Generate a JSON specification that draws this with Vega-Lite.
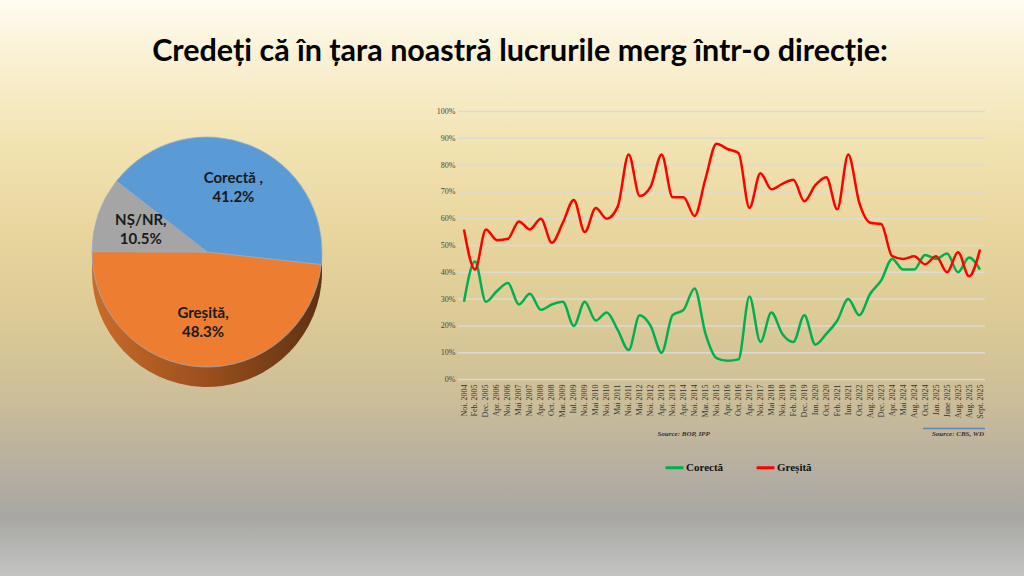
{
  "$schema": "https://vega.github.io/schema/vega-lite/v6.json",
  "width": 1024,
  "height": 576,
  "autosize": {"type": "none"},
  "padding": 0,
  "background": "#fffcf1",
  "title": {
    "text": "Credeți că în țara noastră lucrurile merg într-o direcție:",
    "font": "Lato",
    "fontSize": 30.5,
    "fontWeight": "bold",
    "color": "#000000",
    "anchor": "middle",
    "orient": "top",
    "baseline": "alphabetic",
    "offset": -91,
    "dx": 8
  },
  "config": {"view": {"stroke": null}},
  "datasets": {
    "pie": [
      {"name": "Corectă ,", "share": 0.412},
      {"name": "Greșită,", "share": 0.483},
      {"name": "NȘ/NR,", "share": 0.105}
    ],
    "grid": [
      {"v": 0}, {"v": 10}, {"v": 20}, {"v": 30}, {"v": 40}, {"v": 50},
      {"v": 60}, {"v": 70}, {"v": 80}, {"v": 90}, {"v": 100}
    ],
    "trend": [
      {"p": "Noi. 2004", "s": "Corectă", "v": 29}, {"p": "Noi. 2004", "s": "Greșită", "v": 56},
      {"p": "Feb. 2005", "s": "Corectă", "v": 44}, {"p": "Feb. 2005", "s": "Greșită", "v": 41},
      {"p": "Dec. 2005", "s": "Corectă", "v": 29}, {"p": "Dec. 2005", "s": "Greșită", "v": 56},
      {"p": "Apr. 2006", "s": "Corectă", "v": 33}, {"p": "Apr. 2006", "s": "Greșită", "v": 52},
      {"p": "Noi. 2006", "s": "Corectă", "v": 36}, {"p": "Noi. 2006", "s": "Greșită", "v": 52.5},
      {"p": "Mai 2007", "s": "Corectă", "v": 28}, {"p": "Mai 2007", "s": "Greșită", "v": 59},
      {"p": "Noi. 2007", "s": "Corectă", "v": 32}, {"p": "Noi. 2007", "s": "Greșită", "v": 56},
      {"p": "Apr. 2008", "s": "Corectă", "v": 26}, {"p": "Apr. 2008", "s": "Greșită", "v": 60},
      {"p": "Oct. 2008", "s": "Corectă", "v": 28}, {"p": "Oct. 2008", "s": "Greșită", "v": 51},
      {"p": "Mar. 2009", "s": "Corectă", "v": 29}, {"p": "Mar. 2009", "s": "Greșită", "v": 58.5},
      {"p": "Iul. 2009", "s": "Corectă", "v": 20}, {"p": "Iul. 2009", "s": "Greșită", "v": 67},
      {"p": "Noi. 2009", "s": "Corectă", "v": 29}, {"p": "Noi. 2009", "s": "Greșită", "v": 55},
      {"p": "Mai 2010", "s": "Corectă", "v": 22}, {"p": "Mai 2010", "s": "Greșită", "v": 64},
      {"p": "Noi. 2010", "s": "Corectă", "v": 25}, {"p": "Noi. 2010", "s": "Greșită", "v": 60},
      {"p": "Mai 2011", "s": "Corectă", "v": 18.5}, {"p": "Mai 2011", "s": "Greșită", "v": 64.5},
      {"p": "Noi. 2011", "s": "Corectă", "v": 11}, {"p": "Noi. 2011", "s": "Greșită", "v": 84},
      {"p": "Mai 2012", "s": "Corectă", "v": 24}, {"p": "Mai 2012", "s": "Greșită", "v": 68.5},
      {"p": "Noi. 2012", "s": "Corectă", "v": 20}, {"p": "Noi. 2012", "s": "Greșită", "v": 72},
      {"p": "Apr. 2013", "s": "Corectă", "v": 10}, {"p": "Apr. 2013", "s": "Greșită", "v": 84},
      {"p": "Noi. 2013", "s": "Corectă", "v": 24}, {"p": "Noi. 2013", "s": "Greșită", "v": 68},
      {"p": "Apr. 2014", "s": "Corectă", "v": 26}, {"p": "Apr. 2014", "s": "Greșită", "v": 68},
      {"p": "Noi. 2014", "s": "Corectă", "v": 34}, {"p": "Noi. 2014", "s": "Greșită", "v": 61},
      {"p": "Mar. 2015", "s": "Corectă", "v": 17}, {"p": "Mar. 2015", "s": "Greșită", "v": 75},
      {"p": "Noi. 2015", "s": "Corectă", "v": 8}, {"p": "Noi. 2015", "s": "Greșită", "v": 88},
      {"p": "Apr. 2016", "s": "Corectă", "v": 7}, {"p": "Apr. 2016", "s": "Greșită", "v": 86},
      {"p": "Oct. 2016", "s": "Corectă", "v": 7.5}, {"p": "Oct. 2016", "s": "Greșită", "v": 84.5},
      {"p": "Apr. 2017", "s": "Corectă", "v": 31}, {"p": "Apr. 2017", "s": "Greșită", "v": 64},
      {"p": "Noi. 2017", "s": "Corectă", "v": 14}, {"p": "Noi. 2017", "s": "Greșită", "v": 77},
      {"p": "Mai 2018", "s": "Corectă", "v": 25}, {"p": "Mai 2018", "s": "Greșită", "v": 71},
      {"p": "Noi. 2018", "s": "Corectă", "v": 17}, {"p": "Noi. 2018", "s": "Greșită", "v": 73},
      {"p": "Feb. 2019", "s": "Corectă", "v": 14}, {"p": "Feb. 2019", "s": "Greșită", "v": 74.5},
      {"p": "Dec. 2019", "s": "Corectă", "v": 24}, {"p": "Dec. 2019", "s": "Greșită", "v": 66.5},
      {"p": "Iun. 2020", "s": "Corectă", "v": 13}, {"p": "Iun. 2020", "s": "Greșită", "v": 72.5},
      {"p": "Oct. 2020", "s": "Corectă", "v": 17}, {"p": "Oct. 2020", "s": "Greșită", "v": 75.5},
      {"p": "Feb. 2021", "s": "Corectă", "v": 22}, {"p": "Feb. 2021", "s": "Greșită", "v": 63.5},
      {"p": "Iun. 2021", "s": "Corectă", "v": 30}, {"p": "Iun. 2021", "s": "Greșită", "v": 84},
      {"p": "Oct. 2022", "s": "Corectă", "v": 24}, {"p": "Oct. 2022", "s": "Greșită", "v": 66},
      {"p": "Aug. 2023", "s": "Corectă", "v": 32}, {"p": "Aug. 2023", "s": "Greșită", "v": 58.5},
      {"p": "Dec. 2023", "s": "Corectă", "v": 37}, {"p": "Dec. 2023", "s": "Greșită", "v": 58},
      {"p": "Apr. 2024", "s": "Corectă", "v": 45}, {"p": "Apr. 2024", "s": "Greșită", "v": 46},
      {"p": "Mai 2024", "s": "Corectă", "v": 41}, {"p": "Mai 2024", "s": "Greșită", "v": 45},
      {"p": "Aug. 2024", "s": "Corectă", "v": 41}, {"p": "Aug. 2024", "s": "Greșită", "v": 46},
      {"p": "Oct. 2024", "s": "Corectă", "v": 46.5}, {"p": "Oct. 2024", "s": "Greșită", "v": 43},
      {"p": "Jan. 2025", "s": "Corectă", "v": 45}, {"p": "Jan. 2025", "s": "Greșită", "v": 46},
      {"p": "June 2025", "s": "Corectă", "v": 47}, {"p": "June 2025", "s": "Greșită", "v": 40},
      {"p": "Aug. 2025", "s": "Corectă", "v": 40}, {"p": "Aug. 2025", "s": "Greșită", "v": 47.5},
      {"p": "Aug. 2025 ", "s": "Corectă", "v": 45.5}, {"p": "Aug. 2025 ", "s": "Greșită", "v": 38.5},
      {"p": "Sept. 2025", "s": "Corectă", "v": 41}, {"p": "Sept. 2025", "s": "Greșită", "v": 48.5}
    ]
  },
  "resolve": {"scale": {"x": "independent", "y": "independent", "color": "independent"}},
  "layer": [
    {
      "data": {"values": [{}]},
      "mark": {
        "type": "rect",
        "fill": {
          "gradient": "linear", "x1": 0, "y1": 0, "x2": 0, "y2": 1,
          "stops": [
            {"offset": 0, "color": "#fffcf1"},
            {"offset": 0.1, "color": "#faf1d4"},
            {"offset": 0.25, "color": "#f2e3b2"},
            {"offset": 0.4, "color": "#e9d69e"},
            {"offset": 0.55, "color": "#dccb96"},
            {"offset": 0.7, "color": "#cbbd99"},
            {"offset": 0.82, "color": "#b5aea1"},
            {"offset": 0.9, "color": "#a8a7a3"},
            {"offset": 1, "color": "#c4c4c4"}
          ]
        }
      },
      "encoding": {}
    },
    {
      "data": {"name": "pie"},
      "encoding": {
        "theta": {"field": "share", "type": "quantitative", "stack": true, "scale": {"range": [5.3756, 11.6588]}},
        "order": {"field": "name", "sort": "ascending"},
        "x": {"datum": 0, "type": "quantitative", "scale": {"domain": [-1, 1], "range": [92, 322]}, "axis": null},
        "y": {"datum": 0, "type": "quantitative", "scale": {"domain": [-1, 1], "range": [367, 137]}, "axis": null}
      },
      "layer": [
        {
          "mark": {
            "type": "arc", "radius": 115, "yOffset": 20,
            "fill": {"gradient": "linear", "x1": 0, "y1": 0, "x2": 1, "y2": 0,
              "stops": [{"offset": 0, "color": "#c96c2a"}, {"offset": 0.5, "color": "#9a4f1d"}, {"offset": 1, "color": "#5e3212"}]}
          }
        },
        {
          "mark": {
            "type": "arc", "radius": 115, "yOffset": 10,
            "fill": {"gradient": "linear", "x1": 0, "y1": 0, "x2": 1, "y2": 0,
              "stops": [{"offset": 0, "color": "#c96c2a"}, {"offset": 0.5, "color": "#9a4f1d"}, {"offset": 1, "color": "#5e3212"}]}
          }
        },
        {
          "mark": {"type": "arc", "radius": 115, "stroke": "#9aaec2", "strokeWidth": 0.8},
          "encoding": {
            "color": {"field": "name", "type": "nominal",
              "scale": {"domain": ["Corectă ,", "Greșită,", "NȘ/NR,"], "range": ["#5b9bd5", "#ed7d31", "#a5a5a5"]},
              "legend": null}
          }
        },
        {
          "mark": {"type": "text", "radius": 70, "dy": -9, "font": "Lato", "fontSize": 15, "fontWeight": "bold", "color": "#1a1a1a"},
          "encoding": {"text": {"field": "name"}}
        },
        {
          "mark": {"type": "text", "radius": 70, "dy": 10, "font": "Lato", "fontSize": 15, "fontWeight": "bold", "color": "#1a1a1a"},
          "encoding": {"text": {"field": "share", "type": "quantitative", "format": ".1%"}}
        }
      ]
    },
    {
      "layer": [
        {
          "data": {"name": "grid"},
          "mark": {"type": "rule", "color": "#dedacf", "strokeWidth": 1.5, "xOffset": -6, "x2Offset": 5},
          "encoding": {
            "x": {"datum": "Noi. 2004", "type": "ordinal",
              "scale": {"type": "point", "padding": 0, "range": [464, 980],
                "domain": ["Noi. 2004","Feb. 2005","Dec. 2005","Apr. 2006","Noi. 2006","Mai 2007","Noi. 2007","Apr. 2008","Oct. 2008","Mar. 2009","Iul. 2009","Noi. 2009","Mai 2010","Noi. 2010","Mai 2011","Noi. 2011","Mai 2012","Noi. 2012","Apr. 2013","Noi. 2013","Apr. 2014","Noi. 2014","Mar. 2015","Noi. 2015","Apr. 2016","Oct. 2016","Apr. 2017","Noi. 2017","Mai 2018","Noi. 2018","Feb. 2019","Dec. 2019","Iun. 2020","Oct. 2020","Feb. 2021","Iun. 2021","Oct. 2022","Aug. 2023","Dec. 2023","Apr. 2024","Mai 2024","Aug. 2024","Oct. 2024","Jan. 2025","June 2025","Aug. 2025","Aug. 2025 ","Sept. 2025"]},
              "axis": {"orient": "bottom", "offset": -195, "zindex": 2, "labelAngle": 270, "labelFont": "Liberation Serif", "labelFontSize": 8, "labelColor": "#333333", "ticks": false, "domain": false, "grid": false, "labelPadding": 3, "title": null, "labelOverlap": false}},
            "x2": {"datum": "Sept. 2025"},
            "y": {"field": "v", "type": "quantitative",
              "scale": {"domain": [0, 100], "range": [379.5, 111.5], "nice": false, "zero": false},
              "axis": {"orient": "left", "offset": -457, "zindex": 2, "values": [0,10,20,30,40,50,60,70,80,90,100], "labelExpr": "datum.value + '%'", "labelFont": "Liberation Serif", "labelFontSize": 8, "labelColor": "#444444", "ticks": false, "domain": false, "grid": false, "title": null, "labelPadding": 2}}
          }
        },
        {
          "data": {"name": "trend"},
          "mark": {"type": "line", "interpolate": "monotone", "strokeWidth": 2.5},
          "encoding": {
            "x": {"field": "p", "type": "ordinal", "sort": null},
            "y": {"field": "v", "type": "quantitative"},
            "color": {"field": "s", "type": "nominal",
              "scale": {"domain": ["Corectă", "Greșită"], "range": ["#00b050", "#ff0000"]},
              "legend": {"orient": "none", "legendX": 664, "legendY": 457, "direction": "horizontal", "title": null, "zindex": 2,
                "symbolType": "stroke", "symbolStrokeWidth": 3, "symbolSize": 320, "labelFont": "Liberation Serif",
                "labelFontSize": 11, "labelFontWeight": "bold", "labelColor": "#111111", "labelOffset": 1, "columnPadding": 26}}
          }
        },
        {
          "data": {"values": [{"t": "Source: BOP, IPP"}]},
          "mark": {"type": "text", "font": "Liberation Serif", "fontSize": 7, "fontStyle": "italic", "fontWeight": "bold", "color": "#333333"},
          "encoding": {"x": {"datum": "Apr. 2014", "type": "ordinal"}, "y": {"datum": -20.3, "type": "quantitative"}, "text": {"field": "t"}}
        },
        {
          "data": {"values": [{"t": "Source: CBS, WD"}]},
          "mark": {"type": "text", "font": "Liberation Serif", "fontSize": 7, "fontStyle": "italic", "fontWeight": "bold", "color": "#333333"},
          "encoding": {"x": {"datum": "Aug. 2025", "type": "ordinal"}, "y": {"datum": -20.3, "type": "quantitative"}, "text": {"field": "t"}}
        },
        {
          "data": {"values": [{}]},
          "mark": {"type": "rule", "color": "#5f88b0", "strokeWidth": 1.5, "xOffset": -2, "x2Offset": 5},
          "encoding": {"x": {"datum": "Oct. 2024", "type": "ordinal"}, "x2": {"datum": "Sept. 2025"}, "y": {"datum": -18.3, "type": "quantitative"}}
        }
      ]
    }
  ]
}
